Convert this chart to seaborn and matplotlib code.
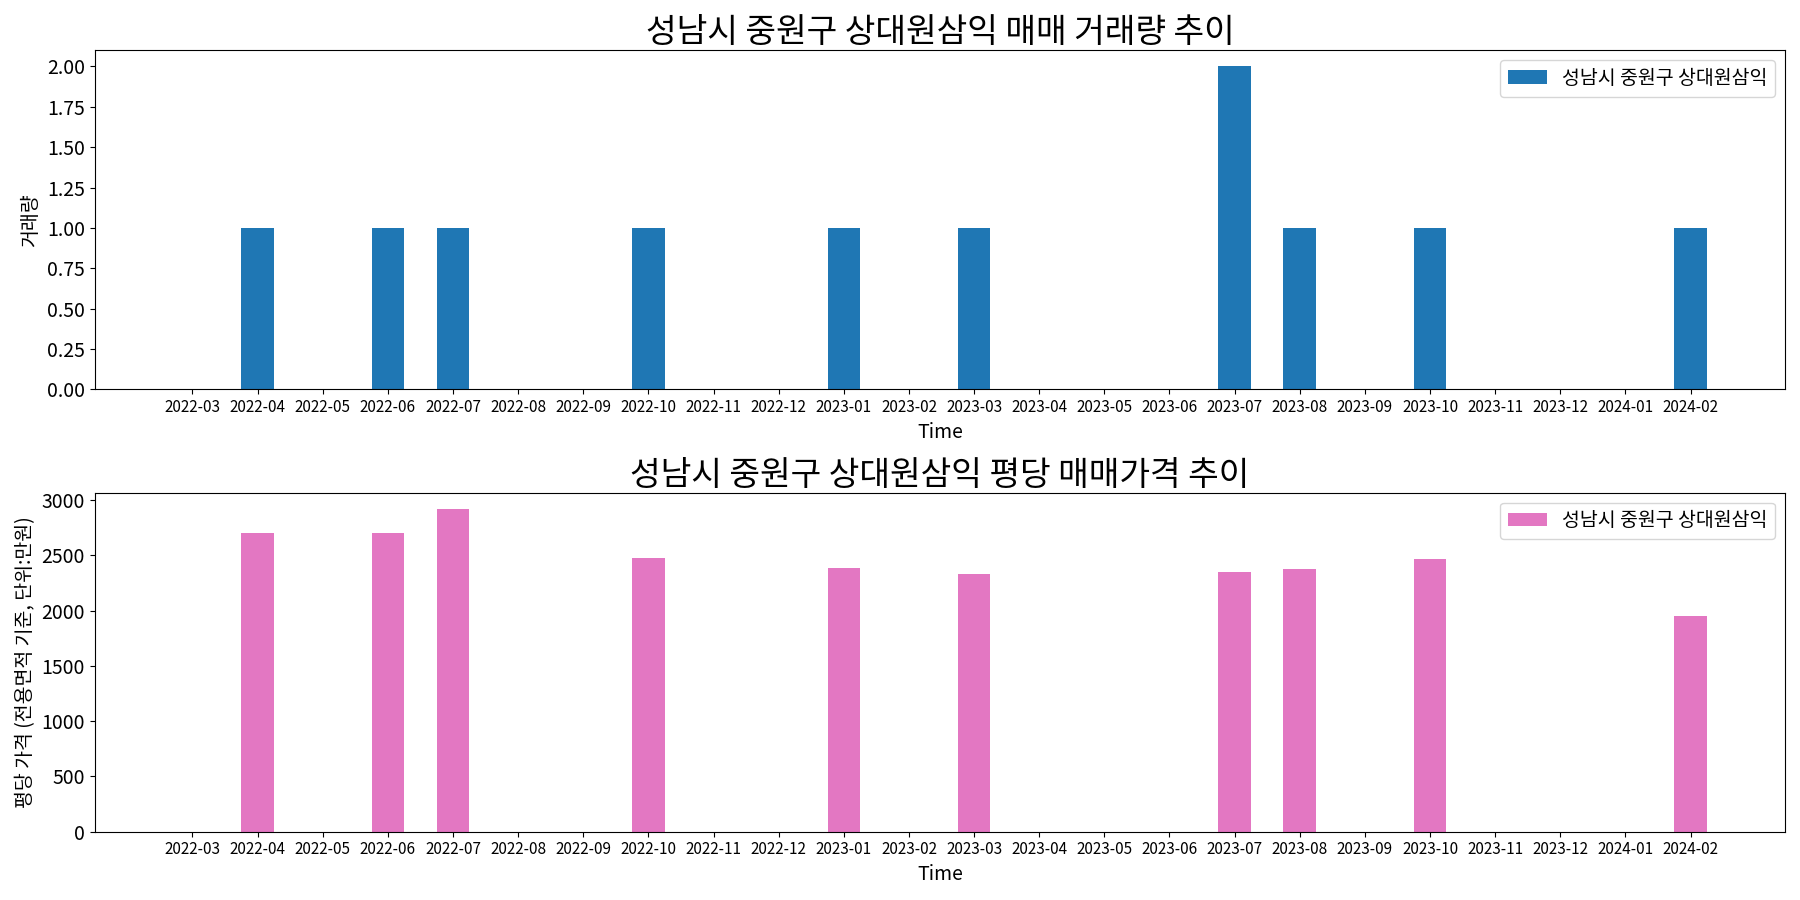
import matplotlib
matplotlib.use("Agg")
import matplotlib.pyplot as plt
import seaborn as sns
import pandas as pd

plt.rcParams["font.family"] = ["Noto Sans CJK JP", "Noto Sans CJK KR", "DejaVu Sans"]
plt.rcParams["axes.unicode_minus"] = False

months = ["2022-03","2022-04","2022-05","2022-06","2022-07","2022-08","2022-09","2022-10",
          "2022-11","2022-12","2023-01","2023-02","2023-03","2023-04","2023-05","2023-06",
          "2023-07","2023-08","2023-09","2023-10","2023-11","2023-12","2024-01","2024-02"]
volume = [0,1,0,1,1,0,0,1,0,0,1,0,1,0,0,0,2,1,0,1,0,0,0,1]
price = [0,2700,0,2700,2920,0,0,2480,0,0,2390,0,2330,0,0,0,2350,2380,0,2470,0,0,0,1950]
name = "성남시 중원구 상대원삼익"

df = pd.DataFrame({"Time": months, "vol": volume, "price": price})

fig, axes = plt.subplots(2, 1, figsize=(18, 9), dpi=100)
sns.barplot(data=df, x="Time", y="vol", ax=axes[0], color="#1f77b4", saturation=1, width=0.5, label=name)
sns.barplot(data=df, x="Time", y="price", ax=axes[1], color="#e377c2", saturation=1, width=0.5, label=name)

axes[0].set_title("성남시 중원구 상대원삼익 매매 거래량 추이", fontsize=24)
axes[1].set_title("성남시 중원구 상대원삼익 평당 매매가격 추이", fontsize=24)
axes[0].set_ylabel("거래량", fontsize=14)
axes[1].set_ylabel("평당 가격 (전용면적 기준, 단위:만원)", fontsize=14)
for ax in axes:
    ax.set_xlabel("Time", fontsize=14)
    ax.tick_params(axis="x", labelsize=11)
    ax.tick_params(axis="y", labelsize=14)
    ax.legend(loc="upper right", fontsize=14)
    ax.set_xlim(-1.5, 24.45)
axes[0].set_yticks([0,0.25,0.5,0.75,1,1.25,1.5,1.75,2.0])
axes[0].set_yticklabels([f"{v:.2f}" for v in [0,0.25,0.5,0.75,1,1.25,1.5,1.75,2.0]])
axes[0].set_ylim(0, 2.1)
plt.tight_layout()
fig.savefig("out.png")
